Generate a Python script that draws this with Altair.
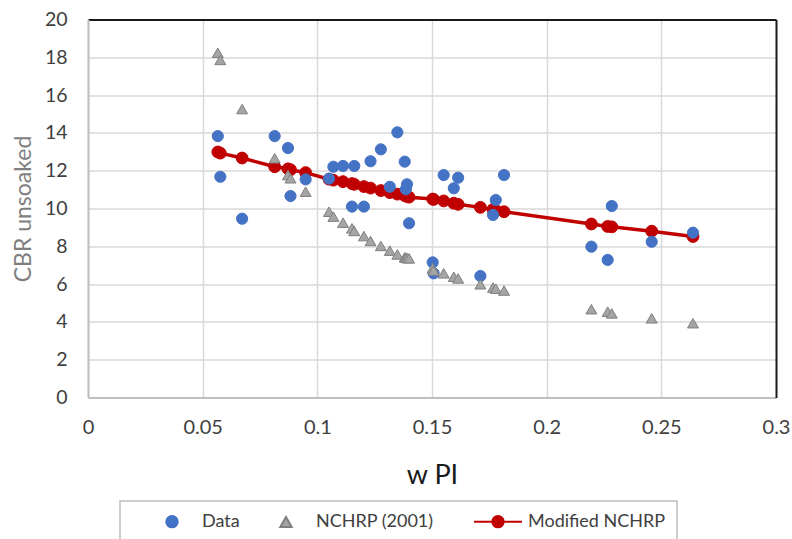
import altair as alt
import pandas as pd

# ---- values ----
w_pi = [0.0566, 0.0577, 0.0672, 0.0814, 0.0872, 0.0883, 0.0949, 0.1051, 0.1070, 0.1112,
        0.1151, 0.1161, 0.1203, 0.1232, 0.1277, 0.1316, 0.1349, 0.1381, 0.1386, 0.1391,
        0.1400, 0.1503, 0.1507, 0.1551, 0.1595, 0.1614, 0.1711, 0.1766, 0.1778, 0.1814,
        0.2195, 0.2266, 0.2284, 0.2458, 0.2638]
cbr_data = [13.83, 11.68, 9.46, 13.83, 13.20, 10.66, 11.54, 11.58, 12.21, 12.25,
            10.10, 12.25, 10.10, 12.50, 13.13, 11.15, 14.03, 12.48, 11.02, 11.28,
            9.22, 7.15, 6.57, 11.77, 11.07, 11.63, 6.43, 9.66, 10.45, 11.77,
            7.98, 7.28, 10.13, 8.24, 8.72]
cbr_nchrp = [18.24, 17.86, 15.26, 12.66, 11.77, 11.60, 10.89, 9.83, 9.57, 9.25,
             8.95, 8.81, 8.54, 8.28, 8.02, 7.77, 7.57, 7.42, 7.40, 7.38,
             7.36, 6.84, 6.72, 6.57, 6.39, 6.30, 5.99, 5.82, 5.76, 5.66,
             4.67, 4.54, 4.45, 4.19, 3.93]
cbr_modified = [12.99, 12.93, 12.67, 12.21, 12.10, 12.05, 11.90, 11.55, 11.50, 11.42,
                11.32, 11.28, 11.16, 11.08, 10.95, 10.84, 10.76, 10.68, 10.66, 10.64,
                10.60, 10.50, 10.48, 10.40, 10.28, 10.22, 10.06, 9.95, 9.90, 9.83,
                9.18, 9.05, 9.03, 8.80, 8.52]

series_names = ["Data", "NCHRP (2001)", "Modified NCHRP"]
series_fill = ["#4472C4", "#A5A5A5", "#C00000"]
series_stroke = ["#4472C4", "#7F7F7F", "#C00000"]
red = "#C00000"
x_ticks = [0, 0.05, 0.1, 0.15, 0.2, 0.25, 0.3]
y_ticks = [0, 2, 4, 6, 8, 10, 12, 14, 16, 18, 20]

rows = []
for name, vals in zip(series_names, [cbr_data, cbr_nchrp, cbr_modified]):
    for xv, yv in zip(w_pi, vals):
        rows.append({"w_pi": xv, "cbr": yv, "series": name})
df = pd.DataFrame(rows)

FONT = "Lato"
PLOT_W, PLOT_H = 688, 378
# legend symbol for the line-with-markers series: a short line through a dot
modified_symbol = "M-4.2,0L4.2,0M1,0A1,1,0,1,1,-1,0A1,1,0,1,1,1,0Z"
shapes = ["circle", "triangle-up", modified_symbol]

legend = alt.Legend(
    title=None, orient="none", legendX=75, legendY=493, direction="horizontal",
    labelFont=FONT, labelFontSize=18, labelColor="#404040", labelOffset=21,
    columnPadding=36, symbolSize=130, symbolStrokeWidth=2, symbolOpacity=1, padding=0,
)

x_scale = alt.Scale(domain=[0, 0.3], nice=False)
y_scale = alt.Scale(domain=[0, 20], nice=False)

x_enc = alt.X("w_pi:Q", scale=x_scale,
              axis=alt.Axis(values=x_ticks, format=".2~f", title="w PI", grid=True,
                            labelFont=FONT, labelFontSize=20, labelColor="#404040",
                            labelPadding=20, labelFlush=False, labelOverlap=False,
                            ticks=False, domainColor="#bfbfbf", domainWidth=2,
                            gridColor="#d9d9d9", gridWidth=1.5,
                            gridOpacity={"condition": {"test": "datum.value >= 0.29", "value": 0}, "value": 1},
                            titleFont=FONT, titleFontSize=27, titleFontWeight="normal",
                            titleColor="#1a1a1a", titleBaseline="alphabetic", titleY=86))
y_enc = alt.Y("cbr:Q", scale=y_scale,
              axis=alt.Axis(values=y_ticks, title="CBR unsoaked", grid=True,
                            labelFont=FONT, labelFontSize=19.5, labelColor="#404040",
                            labelPadding=21, labelFlush=False, labelOverlap=False,
                            ticks=False, domainColor="#bfbfbf", domainWidth=2,
                            gridColor="#d9d9d9", gridWidth=1.5,
                            gridOpacity={"condition": {"test": "datum.value >= 19.5", "value": 0}, "value": 1},
                            titleFont=FONT, titleFontSize=23, titleFontWeight="normal",
                            titleColor="#7f7f7f", titleAngle=270, titleAlign="center",
                            titleBaseline="middle", titleX=-65, titleY=189))
# top/right axes carry the dark plot border
x_top = alt.X("w_pi:Q", scale=x_scale,
              axis=alt.Axis(orient="top", labels=False, ticks=False, grid=False, title=None,
                            domainColor="#1a1a1a", domainWidth=2))
y_right = alt.Y("cbr:Q", scale=y_scale,
                axis=alt.Axis(orient="right", labels=False, ticks=False, grid=False, title=None,
                              domainColor="#1a1a1a", domainWidth=2))

color_enc = alt.Color("series:N", scale=alt.Scale(domain=series_names, range=series_fill), legend=legend)
shape_enc = alt.Shape("series:N", scale=alt.Scale(domain=series_names, range=shapes), legend=legend)
stroke_enc = alt.Stroke("series:N", scale=alt.Scale(domain=series_names, range=series_stroke), legend=legend)

base = alt.Chart(df)

line = base.transform_filter(alt.datum.series == "Modified NCHRP").mark_line(
    color=red, strokeWidth=3.5).encode(x=x_top, y=y_right)

def pts(name, size, shape=None):
    return base.transform_filter(alt.datum.series == name).mark_point(
        filled=True, opacity=1, strokeWidth=1, size=size
    ).encode(x=x_enc, y=y_enc, color=color_enc, stroke=stroke_enc,
             shape=shape if shape is not None else shape_enc)

one = alt.Data(values=[{"k": 1}])
legend_box = alt.Chart(one).mark_rect(
    fill="transparent", stroke="#bfbfbf", strokeWidth=1.5
).encode(x=alt.value(32), x2=alt.value(589), y=alt.value(481.5), y2=alt.value(540))

rest = alt.layer(
    pts("Modified NCHRP", 140, alt.value("circle")),
    pts("Data", 125),
    pts("NCHRP (2001)", 120),
    legend_box,
)

chart = alt.layer(line, rest).resolve_axis(x="independent", y="independent").properties(
    width=PLOT_W, height=PLOT_H,
    autosize=alt.AutoSizeParams(type="none"),
    padding={"left": 88, "top": 19.5, "right": 16, "bottom": 141.5},
    background="white",
).configure_view(strokeWidth=0)

chart.save("out.html", embed_options={"renderer": "svg", "actions": False})
